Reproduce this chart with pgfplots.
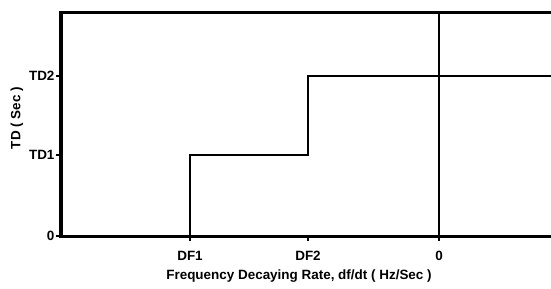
\documentclass[border=0pt]{standalone}
\usepackage{fontspec}
\setmainfont{Liberation Sans}
\usepackage{pgfplots}
\pgfplotsset{compat=1.18}
\begin{document}
\begin{tikzpicture}[x=1bp,y=1bp]
\begin{axis}[
  scale only axis,
  width=492bp, height=224bp,
  xmin=61, xmax=553, ymin=0, ymax=224,
  axis line style={line width=3bp},
  xtick={190,308,439}, xticklabels={DF1,DF2,0},
  ytick={0,81,160}, yticklabels={0,TD1,TD2},
  xtick pos=bottom, ytick pos=left,
  tick align=outside, major tick length=5bp,
  every tick/.style={line width=2bp, black},
  tick label style={font=\fontsize{13.5}{15}\selectfont\bfseries},
  /pgf/number format/assume math mode=true,
  xticklabel style={yshift=-7bp},
  yticklabel style={xshift=2bp},
  xlabel={Frequency Decaying Rate, df/dt ( Hz/Sec )},
  ylabel={TD ( Sec )},
  label style={font=\fontsize{13.5}{15}\selectfont\bfseries},
  xlabel style={yshift=-2bp, xshift=-8bp},
  ylabel style={yshift=-1bp, xshift=6bp},
  clip=false,
]
\addplot[black, line width=2.6bp] coordinates {(190,0) (190,81) (308,81) (308,160) (553,160)};
\addplot[black, line width=2.6bp] coordinates {(439,0) (439,224)};
\coordinate (bl) at (axis cs:0,-53);
\coordinate (tr) at (axis cs:551,236);
\end{axis}
\pgfresetboundingbox
\path[use as bounding box] (bl) rectangle (tr);
\end{tikzpicture}
\end{document}
